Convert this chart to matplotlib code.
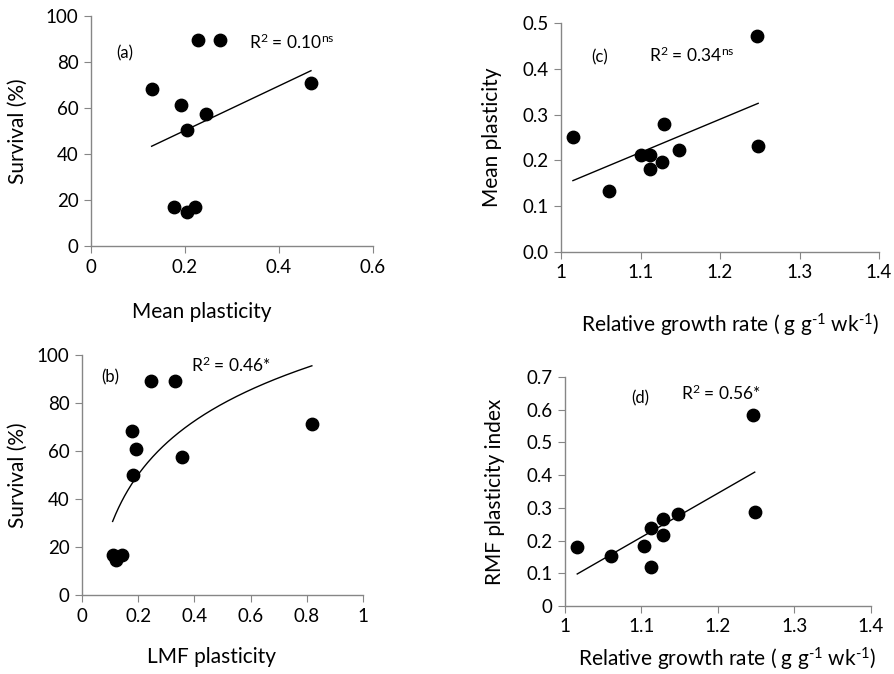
import numpy as np
import matplotlib
matplotlib.use("Agg")
from matplotlib import pyplot as plt

plt.rcParams['font.family'] = ['Lato', 'DejaVu Sans']
plt.rcParams['mathtext.fontset'] = 'custom'
plt.rcParams['mathtext.rm'] = 'Lato'
plt.rcParams['mathtext.it'] = 'Lato:italic'

# (a) survival vs mean plasticity
a_x = [0.228, 0.274, 0.129, 0.191, 0.245, 0.205, 0.468, 0.177, 0.205, 0.221]
a_y = [89.4, 89.4, 68.4, 61.2, 57.5, 50.3, 70.9, 17.0, 14.6, 17.0]
# (b) survival vs LMF plasticity
b_x = [0.247, 0.330, 0.177, 0.192, 0.356, 0.183, 0.818, 0.109, 0.122, 0.143]
b_y = [89.3, 89.3, 68.4, 60.7, 57.4, 50.1, 71.2, 16.6, 14.7, 16.6]
# (c) mean plasticity vs RGR
c_x = [1.015, 1.060, 1.101, 1.112, 1.112, 1.127, 1.129, 1.148, 1.246, 1.248]
c_y = [0.251, 0.133, 0.211, 0.211, 0.181, 0.197, 0.280, 0.223, 0.472, 0.231]
# (d) RMF plasticity vs RGR
d_x = [1.016, 1.060, 1.103, 1.112, 1.112, 1.128, 1.128, 1.148, 1.246, 1.248]
d_y = [0.180, 0.154, 0.183, 0.238, 0.118, 0.267, 0.216, 0.281, 0.585, 0.288]

W, H = 895, 674
fig = plt.figure(figsize=(W / 100, H / 100), dpi=100)

rgr_label = r'Relative growth rate ( g g$^{\text{-1}}$ wk$^{\text{-1}}$)'

def make_ax(l, r, t, b):
    return fig.add_axes([l / W, 1 - b / H, (r - l) / W, (b - t) / H])

def style(ax, xt, xtl, yt, ytl):
    for s in ['top', 'right']:
        ax.spines[s].set_visible(False)
    for s in ['left', 'bottom']:
        ax.spines[s].set_color('#868686')
        ax.spines[s].set_linewidth(1.0)
    ax.set_xticks(xt)
    ax.set_xticklabels(xtl)
    ax.set_yticks(yt)
    ax.set_yticklabels(ytl)
    ax.set_xlim(xt[0], xt[-1])
    ax.set_ylim(yt[0], yt[-1])
    ax.tick_params(direction='out', length=5, color='#868686', labelsize=13.5, pad=4)
    ax.set_facecolor('none')

def linfit(ax, x, y):
    p = np.polyfit(x, y, 1)
    xx = np.array([min(x), max(x)])
    ax.plot(xx, np.polyval(p, xx), color='black', lw=1)

# panel a
ax = make_ax(91, 373, 16, 246)
style(ax, [0, 0.2, 0.4, 0.6], ['0', '0.2', '0.4', '0.6'],
      [0, 20, 40, 60, 80, 100], ['0', '20', '40', '60', '80', '100'])
linfit(ax, a_x, a_y)
ax.scatter(a_x, a_y, s=80, color='black', zorder=3, clip_on=False)
ax.text(0.072, 83.9, '(a)', fontsize=12, ha='center', va='center')
ax.text(0.336, 88.7, r'R$^2$ = 0.10$^{\rm ns}$', fontsize=12.5, ha='left', va='center')
ax.set_xlabel('Mean plasticity', fontsize=15)
ax.xaxis.set_label_coords((202 - 91) / 282, -0.243)
ax.set_ylabel('Survival (%)', fontsize=15)
ax.yaxis.set_label_coords(-0.223, 0.5)

# panel b
ax = make_ax(82, 363, 355, 595)
style(ax, [0, 0.2, 0.4, 0.6, 0.8, 1.0], ['0', '0.2', '0.4', '0.6', '0.8', '1'],
      [0, 20, 40, 60, 80, 100], ['0', '20', '40', '60', '80', '100'])
p = np.polyfit(np.log(b_x), b_y, 1)
xx = np.linspace(min(b_x), max(b_x), 200)
ax.plot(xx, np.polyval(p, np.log(xx)), color='black', lw=1)
ax.scatter(b_x, b_y, s=80, color='black', zorder=3, clip_on=False)
ax.text(0.0996, 90.8, '(b)', fontsize=12, ha='center', va='center')
ax.text(0.388, 95.8, r'R$^2$ = 0.46*', fontsize=12.5, ha='left', va='center')
ax.set_xlabel('LMF plasticity', fontsize=15)
ax.xaxis.set_label_coords((212 - 82) / 281, -0.217)
ax.set_ylabel('Survival (%)', fontsize=15)
ax.yaxis.set_label_coords(-0.192, 0.5)

# panel c
ax = make_ax(561, 879, 23, 252)
style(ax, [1.0, 1.1, 1.2, 1.3, 1.4], ['1', '1.1', '1.2', '1.3', '1.4'],
      [0, 0.1, 0.2, 0.3, 0.4, 0.5], ['0.0', '0.1', '0.2', '0.3', '0.4', '0.5'])
linfit(ax, c_x, c_y)
ax.scatter(c_x, c_y, s=80, color='black', zorder=3, clip_on=False)
ax.text(1.049, 0.424, '(c)', fontsize=12, ha='center', va='center')
ax.text(1.111, 0.430, r'R$^2$ = 0.34$^{\rm ns}$', fontsize=12.5, ha='left', va='center')
ax.set_xlabel(rgr_label, fontsize=15)
ax.xaxis.set_label_coords((730 - 561) / 318, -0.26)
ax.set_ylabel('Mean plasticity', fontsize=15)
ax.yaxis.set_label_coords(-0.186, 0.5)

# panel d
ax = make_ax(565, 871, 377, 606)
style(ax, [1.0, 1.1, 1.2, 1.3, 1.4], ['1', '1.1', '1.2', '1.3', '1.4'],
      [0, 0.1, 0.2, 0.3, 0.4, 0.5, 0.6, 0.7],
      ['0', '0.1', '0.2', '0.3', '0.4', '0.5', '0.6', '0.7'])
linfit(ax, d_x, d_y)
ax.scatter(d_x, d_y, s=80, color='black', zorder=3, clip_on=False)
ax.text(1.099, 0.636, '(d)', fontsize=12, ha='center', va='center')
ax.text(1.152, 0.651, r'R$^2$ = 0.56*', fontsize=12.5, ha='left', va='center')
ax.set_xlabel(rgr_label, fontsize=15)
ax.xaxis.set_label_coords((727 - 565) / 306, -0.175)
ax.set_ylabel('RMF plasticity index', fontsize=15)
ax.yaxis.set_label_coords(-0.196, 0.5)

fig.savefig('out.png', dpi=100)
